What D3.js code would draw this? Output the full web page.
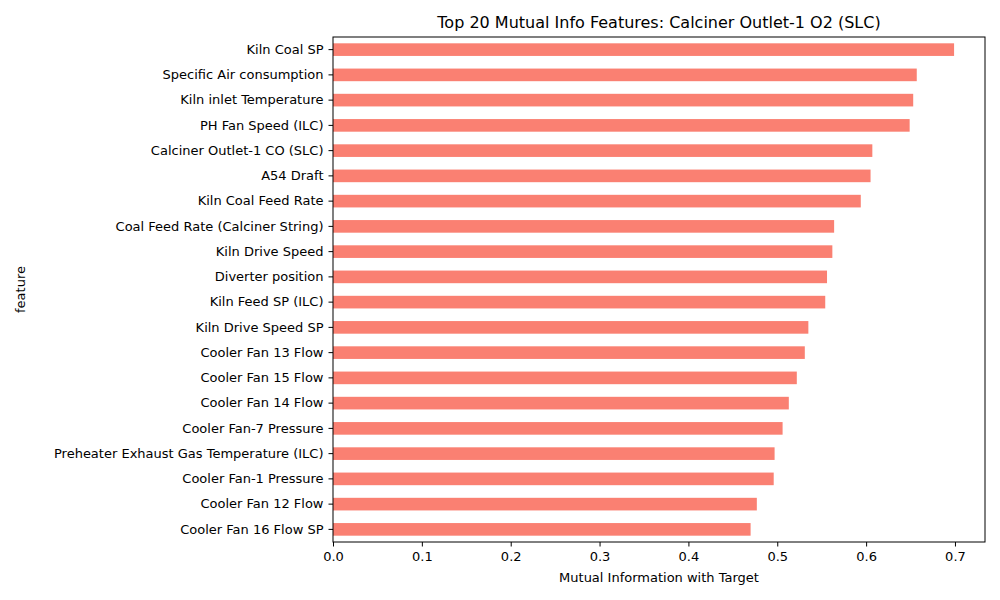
<!DOCTYPE html>
<html>
<head>
<meta charset="utf-8">
<script src="https://cdn.jsdelivr.net/npm/d3@7"></script>
<style>
body { margin: 0; background: #fff; }
text { font-family: "DejaVu Sans", sans-serif; fill: #000; }
</style>
</head>
<body>
<div id="chart"></div>
<script>
var features = ["Kiln Coal SP", "Specific Air consumption", "Kiln inlet Temperature", "PH Fan Speed (ILC)",
  "Calciner Outlet-1 CO (SLC)", "A54 Draft", "Kiln Coal Feed Rate", "Coal Feed Rate (Calciner String)",
  "Kiln Drive Speed", "Diverter position", "Kiln Feed  SP  (ILC)", "Kiln Drive Speed SP",
  "Cooler Fan 13 Flow", "Cooler Fan 15 Flow", "Cooler Fan 14 Flow", "Cooler Fan-7 Pressure",
  "Preheater Exhaust Gas Temperature (ILC)", "Cooler Fan-1 Pressure", "Cooler Fan 12 Flow", "Cooler Fan 16 Flow SP"];
var miValues = [0.699, 0.657, 0.653, 0.649, 0.607, 0.605, 0.594, 0.564, 0.562, 0.556,
  0.554, 0.535, 0.531, 0.522, 0.513, 0.506, 0.497, 0.496, 0.477, 0.470];
var xTicks = [0, 0.1, 0.2, 0.3, 0.4, 0.5, 0.6, 0.7];

var svgWidth = 1000, svgHeight = 600;
var margin = {top: 37, right: 15, bottom: 58, left: 333};
var width = svgWidth - margin.left - margin.right;
var height = svgHeight - margin.top - margin.bottom;

var svg = d3.select("#chart").append("svg")
  .attr("width", svgWidth).attr("height", svgHeight);
var chartGroup = svg.append("g")
  .attr("transform", `translate(${margin.left}, ${margin.top})`);

var data = features.map((f, i) => ({feature: f, value: miValues[i]}));

var xScale = d3.scaleLinear().domain([0, 0.7338]).range([0, width]);
var yScale = d3.scaleBand().domain(features).range([0, height]).paddingInner(0.5).paddingOuter(0.25);

chartGroup.selectAll("rect.bar")
  .data(data)
  .enter().append("rect")
  .attr("class", "bar")
  .attr("x", 0)
  .attr("y", d => yScale(d.feature))
  .attr("width", d => xScale(d.value))
  .attr("height", yScale.bandwidth())
  .attr("fill", "#fa8072");

var bottomAxis = d3.axisBottom(xScale).tickValues(xTicks).tickFormat(d3.format(".1f")).tickSizeOuter(0).tickSize(4.5).tickPadding(5);
var leftAxis = d3.axisLeft(yScale).tickSizeOuter(0).tickSize(4.5).tickPadding(5);

var xAxis = chartGroup.append("g").attr("transform", `translate(0, ${height})`).call(bottomAxis);
var yAxis = chartGroup.append("g").call(leftAxis);
[xAxis, yAxis].forEach(function(a) {
  a.selectAll("text").style("font-size", "13px");
  a.select(".domain").remove();
});

// frame
chartGroup.append("rect").attr("width", width).attr("height", height)
  .attr("fill", "none").attr("stroke", "#000").attr("stroke-width", 1);

svg.append("text").attr("x", margin.left + width / 2).attr("y", 28)
  .attr("text-anchor", "middle").style("font-size", "16px")
  .text("Top 20 Mutual Info Features: Calciner Outlet-1 O2 (SLC)");
svg.append("text").attr("x", margin.left + width / 2).attr("y", 582)
  .attr("text-anchor", "middle").style("font-size", "13px")
  .text("Mutual Information with Target");
svg.append("text").attr("transform", `translate(25, ${margin.top + height / 2}) rotate(-90)`)
  .attr("text-anchor", "middle").style("font-size", "13px")
  .text("feature");
</script>
</body>
</html>
